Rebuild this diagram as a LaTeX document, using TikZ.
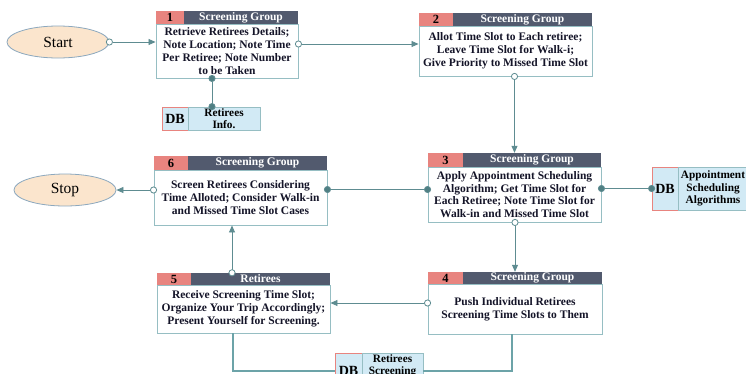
\documentclass[tikz,border=0pt]{standalone}
\usepackage{fontspec}
\setmainfont{Liberation Serif}
\usetikzlibrary{arrows.meta,shapes.geometric}
\definecolor{numred}{RGB}{232,132,127}
\definecolor{headgray}{RGB}{82,90,110}
\definecolor{boxline}{RGB}{150,190,195}
\definecolor{linkteal}{RGB}{94,140,145}
\definecolor{dotteal}{RGB}{79,127,131}
\definecolor{termfill}{RGB}{251,229,205}
\definecolor{termline}{RGB}{140,168,190}
\definecolor{dbfill}{RGB}{210,234,245}
\definecolor{busteal}{RGB}{108,163,168}
\definecolor{bodyink}{RGB}{20,20,40}

\begin{document}
\begin{tikzpicture}[x=1pt, y=-1pt,
    stepbody/.style={draw=boxline, line width=0.9pt, fill=white, text=bodyink, inner sep=0pt, align=center, font=\bfseries\fontsize{11.5}{12.8}\selectfont},
    stepnum/.style={fill=numred, inner sep=0pt, font=\bfseries\fontsize{12.5}{12.5}\selectfont},
    stephead/.style={fill=headgray, text=white, inner sep=0pt, font=\bfseries\fontsize{11.5}{11.5}\selectfont},
    terminal/.style={ellipse, draw=termline, fill=termfill, line width=0.8pt, minimum width=102pt, minimum height=32pt, font=\fontsize{15.5}{15.5}\selectfont},
    dbtag/.style={draw=numred, fill=dbfill, line width=0.8pt, inner sep=0pt, font=\bfseries\fontsize{14}{14}\selectfont},
    dbname/.style={draw=boxline, fill=dbfill, line width=0.8pt, inner sep=0pt, align=center, font=\bfseries\fontsize{11.3}{12.5}\selectfont},
    openlink/.style={draw=linkteal, line width=0.8pt, {Circle[fill=white, length=7pt, width=7pt]}-{Triangle[length=7pt, width=6pt, fill=linkteal]}, shorten <=-3.5pt},
    dotlink/.style={draw=linkteal, line width=0.8pt, {Circle[fill=dotteal, length=7pt, width=7pt]}-{Circle[fill=dotteal, length=7pt, width=7pt]}, shorten <=-3.5pt, shorten >=-3.5pt},
    bus/.style={draw=busteal, line width=2.6pt}]

    \useasboundingbox (0,0) rectangle (746,373);
    \clip (0,0) rectangle (746,373);

    % Start and stop
    \node[terminal] (start) at (58,42) {Start};
    \node[terminal] (stop) at (65,190) {Stop};

    % Step 1
    \node[stepbody, minimum width=142pt, minimum height=54pt] (b1) at (227,51) {Retrieve Retirees Details;\\Note Location; Note Time\\Per Retiree; Note Number\\to be Taken};
    \node[stepnum, minimum width=28pt, minimum height=13pt] (n1) at (170,17.5) {1};
    \node[stephead, minimum width=114pt, minimum height=13pt] (h1) at (241,17.5) {Screening Group};

    % Step 2
    \node[stepbody, minimum width=173pt, minimum height=50pt] (b2) at (505.5,51) {Allot Time Slot to Each retiree;\\Leave Time Slot for Walk-i;\\Give Priority to Missed Time Slot};
    \node[stepnum, minimum width=34pt, minimum height=13pt] (n2) at (436,19.5) {2};
    \node[stephead, minimum width=139pt, minimum height=13pt] (h2) at (522.5,19.5) {Screening Group};

    % Step 3
    \node[stepbody, minimum width=173pt, minimum height=55pt] (b3) at (514.5,194.5) {Apply Appointment Scheduling\\Algorithm; Get Time Slot for\\Each Retiree; Note Time Slot for\\Walk-in and Missed Time Slot};
    \node[stepnum, minimum width=35pt, minimum height=14pt] (n3) at (445.5,160) {3};
    \node[stephead, minimum width=138pt, minimum height=14pt] (h3) at (532,160) {Screening Group};

    % Step 4
    \node[stepbody, minimum width=174pt, minimum height=50pt] (b4) at (515,309) {Push Individual Retirees\\Screening Time Slots to Them};
    \node[stepnum, minimum width=35pt, minimum height=12pt] (n4) at (445.5,278) {4};
    \node[stephead, minimum width=139pt, minimum height=12pt] (h4) at (532.5,278) {Screening Group};

    % Step 5
    \node[stepbody, minimum width=173pt, minimum height=48pt] (b5) at (243.5,309) {Receive Screening Time Slot;\\Organize Your Trip Accordingly;\\Present Yourself for Screening.};
    \node[stepnum, minimum width=34pt, minimum height=12pt] (n5) at (174,279) {5};
    \node[stephead, minimum width=139pt, minimum height=12pt] (h5) at (260.5,279) {Retirees};

    % Step 6
    \node[stepbody, minimum width=173pt, minimum height=55pt] (b6) at (240.5,197.5) {Screen Retirees Considering\\Time Alloted; Consider Walk-in\\and Missed Time Slot Cases};
    \node[stepnum, minimum width=34pt, minimum height=14pt] (n6) at (171,163) {6};
    \node[stephead, minimum width=139pt, minimum height=14pt] (h6) at (257.5,163) {Screening Group};

    % Data stores
    \node[dbtag, minimum width=26pt, minimum height=23pt] (db1tag) at (175,118.5) {DB};
    \node[dbname, minimum width=72pt, minimum height=23pt] (db1name) at (224,118.5) {Retirees\\Info.};
    \node[dbtag, minimum width=26pt, minimum height=43pt] (db2tag) at (665,188.5) {DB};
    \node[dbname, minimum width=70pt, minimum height=43pt] (db2name) at (713,188.5) {Appointment\\Scheduling\\Algorithms};
    \node[dbtag, minimum width=27pt, minimum height=36pt] (db3tag) at (348.5,371) {DB};
    \node[dbname, minimum width=61pt, minimum height=36pt] (db3name) at (392.5,371) {Retirees\\Screening\\~};

    % Flow
    \draw[openlink] (start.east) -- (start.east -| b1.west);
    \draw[openlink] ([yshift=7pt]b1.east) -- ([yshift=7pt]b1.east -| b2.west);
    \draw[openlink] (b3.north |- b2.south) -- (h3.north -| b3.north);
    \draw[openlink] (b4.north |- b3.south) -- (h4.north -| b4.north);
    \draw[openlink] ([yshift=6pt]b4.west) -- ([yshift=6pt]b4.west -| b5.east);
    \draw[openlink] ([xshift=-8.5pt]b6.south |- h5.north) -- ([xshift=-8.5pt]b6.south);
    \draw[openlink] (stop.east -| b6.west) -- (stop.east);

    % Data links
    \draw[dotlink] ([xshift=-15pt]b1.south) -- ([xshift=-15pt]b1.south |- db1name.north);
    \draw[dotlink] (b3.east |- db2tag.west) -- (db2tag.west);
    \draw[dotlink] ([yshift=5pt]b3.west) -- ([yshift=5pt]b3.west -| b6.east);
    \draw[bus] ([xshift=-10.5pt]b5.south) |- (db3tag.west);
    \draw[bus] ([xshift=-3pt]b4.south) |- (db3name.east);
\end{tikzpicture}
\end{document}
